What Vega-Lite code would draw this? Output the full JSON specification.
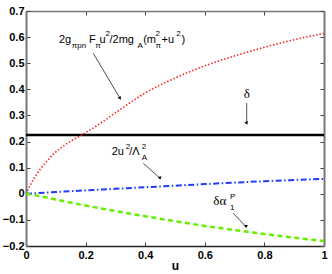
{
  "$schema": "https://vega.github.io/schema/vega-lite/v6.json",
  "width": 298,
  "height": 235,
  "autosize": {"type": "none"},
  "padding": {"left": 26, "top": 11, "right": 8, "bottom": 28},
  "background": "white",
  "config": {
    "view": {"stroke": null},
    "font": "Liberation Sans"
  },
  "datasets": {
    "curves": [
      {"u": 0, "v": 0, "s": "red"}, {"u": 0.01, "v": 0.024, "s": "red"}, {"u": 0.02, "v": 0.045, "s": "red"}, {"u": 0.047, "v": 0.093, "s": "red"}, {"u": 0.07, "v": 0.124, "s": "red"}, {"u": 0.092, "v": 0.152, "s": "red"}, {"u": 0.12, "v": 0.178, "s": "red"}, {"u": 0.148, "v": 0.2, "s": "red"}, {"u": 0.187, "v": 0.225, "s": "red"}, {"u": 0.25, "v": 0.27, "s": "red"}, {"u": 0.3, "v": 0.31, "s": "red"}, {"u": 0.4, "v": 0.386, "s": "red"}, {"u": 0.5, "v": 0.443, "s": "red"}, {"u": 0.6, "v": 0.49, "s": "red"}, {"u": 0.7, "v": 0.528, "s": "red"}, {"u": 0.8, "v": 0.561, "s": "red"}, {"u": 0.9, "v": 0.59, "s": "red"}, {"u": 1.0, "v": 0.614, "s": "red"},
      {"u": 0, "v": 0, "s": "blue"}, {"u": 0.1, "v": 0.007, "s": "blue"}, {"u": 0.2, "v": 0.013, "s": "blue"}, {"u": 0.3, "v": 0.019, "s": "blue"}, {"u": 0.4, "v": 0.025, "s": "blue"}, {"u": 0.5, "v": 0.031, "s": "blue"}, {"u": 0.6, "v": 0.037, "s": "blue"}, {"u": 0.7, "v": 0.043, "s": "blue"}, {"u": 0.8, "v": 0.048, "s": "blue"}, {"u": 0.9, "v": 0.053, "s": "blue"}, {"u": 1.0, "v": 0.057, "s": "blue"},
      {"u": 0, "v": 0, "s": "green"}, {"u": 0.047, "v": -0.009, "s": "green"}, {"u": 0.1, "v": -0.022, "s": "green"}, {"u": 0.2, "v": -0.045, "s": "green"}, {"u": 0.3, "v": -0.066, "s": "green"}, {"u": 0.4, "v": -0.086, "s": "green"}, {"u": 0.5, "v": -0.105, "s": "green"}, {"u": 0.6, "v": -0.123, "s": "green"}, {"u": 0.7, "v": -0.139, "s": "green"}, {"u": 0.8, "v": -0.154, "s": "green"}, {"u": 0.9, "v": -0.168, "s": "green"}, {"u": 1.0, "v": -0.181, "s": "green"}
    ],
    "delta": [{"u": 0, "v": 0.225}, {"u": 1, "v": 0.225}],
    "arrows": [
      {"id": "a1", "u": 0.2258, "v": 0.5381, "u2": 0.3154, "v2": 0.3658},
      {"id": "a2", "u": 0.7406, "v": 0.3478, "u2": 0.7406, "v2": 0.27},
      {"id": "a3", "u": 0.3936, "v": 0.1168, "u2": 0.4497, "v2": 0.0594},
      {"id": "a4", "u": 0.6956, "v": -0.0747, "u2": 0.7383, "v2": -0.126}
    ],
    "labels": [
      {"u": 0.1107, "v": 0.5764, "t": "2g", "k": "n"},
      {"u": 0.1534, "v": 0.5595, "t": "πpn", "k": "s"},
      {"u": 0.2114, "v": 0.5764, "t": "F", "k": "n"},
      {"u": 0.2325, "v": 0.5595, "t": "π", "k": "s"},
      {"u": 0.2466, "v": 0.5764, "t": "u", "k": "n"},
      {"u": 0.2668, "v": 0.6055, "t": "2", "k": "s"},
      {"u": 0.2802, "v": 0.5764, "t": "/2mg", "k": "n"},
      {"u": 0.3745, "v": 0.5595, "t": "A", "k": "s"},
      {"u": 0.3933, "v": 0.5764, "t": "(m", "k": "n"},
      {"u": 0.4349, "v": 0.6055, "t": "2", "k": "s"},
      {"u": 0.4349, "v": 0.5595, "t": "π", "k": "s"},
      {"u": 0.455, "v": 0.5764, "t": "+u", "k": "n"},
      {"u": 0.5043, "v": 0.6055, "t": "2", "k": "s"},
      {"u": 0.5221, "v": 0.5764, "t": ")", "k": "n"},
      {"u": 0.2876, "v": 0.1486, "t": "2u", "k": "n"},
      {"u": 0.3346, "v": 0.1716, "t": "2", "k": "s"},
      {"u": 0.3466, "v": 0.1486, "t": "/Λ", "k": "n"},
      {"u": 0.3886, "v": 0.1716, "t": "2", "k": "s"},
      {"u": 0.3886, "v": 0.1294, "t": "A", "k": "s"},
      {"u": 0.7306, "v": 0.367, "t": "δ", "k": "g"},
      {"u": 0.6285, "v": -0.0429, "t": "δα", "k": "g"},
      {"u": 0.6846, "v": -0.0199, "t": "P", "k": "s"},
      {"u": 0.6846, "v": -0.062, "t": "1", "k": "s"}
    ],
    "frame": [{"u": 0, "v": -0.2}, {"u": 1, "v": 0.7}]
  },
  "resolve": {"axis": {"x": "independent", "y": "independent"}},
  "layer": [
    {
      "data": {"name": "frame"},
      "mark": {"type": "point", "opacity": 0},
      "encoding": {
        "x": {"field": "u", "type": "quantitative", "scale": {"domain": [0, 1], "nice": false, "zero": false},
          "axis": {"orient": "bottom", "values": [0, 0.2, 0.4, 0.6, 0.8, 1], "format": "~g", "title": "u",
            "titleFont": "Liberation Sans", "titleFontSize": 12, "titleFontWeight": "bold", "titlePadding": 0, "titleColor": "black",
            "labelFont": "Liberation Sans", "labelFontSize": 11, "labelFontWeight": "bold", "labelColor": "black", "labelPadding": 7,
            "tickSize": -4, "tickColor": "#444", "domainColor": "#222", "domainWidth": 1.5, "grid": false, "labelFlush": false}},
        "y": {"field": "v", "type": "quantitative", "scale": {"domain": [-0.2, 0.7], "nice": false, "zero": false},
          "axis": {"orient": "left", "values": [-0.2, -0.1, 0, 0.1, 0.2, 0.3, 0.4, 0.5, 0.6, 0.7], "format": "~g", "title": null,
            "labelFont": "Liberation Sans", "labelFontSize": 11, "labelFontWeight": "bold", "labelColor": "black", "labelPadding": 6,
            "tickSize": -4, "tickColor": "#444", "domainColor": "#777", "domainWidth": 2, "grid": false, "labelFlush": false}}
      }
    },
    {
      "data": {"name": "frame"},
      "mark": {"type": "point", "opacity": 0},
      "encoding": {
        "x": {"field": "u", "type": "quantitative", "scale": {"domain": [0, 1], "nice": false, "zero": false},
          "axis": {"orient": "top", "values": [0, 0.2, 0.4, 0.6, 0.8, 1], "labels": false, "title": null,
            "tickSize": -4, "tickColor": "#444", "domainColor": "#777", "domainWidth": 1.5, "grid": false}},
        "y": {"field": "v", "type": "quantitative", "scale": {"domain": [-0.2, 0.7], "nice": false, "zero": false},
          "axis": {"orient": "right", "values": [-0.2, -0.1, 0, 0.1, 0.2, 0.3, 0.4, 0.5, 0.6, 0.7], "labels": false, "title": null,
            "tickSize": -4, "tickColor": "#444", "domainColor": "#777", "domainWidth": 2, "grid": false}}
      }
    },
    {
      "data": {"name": "delta"},
      "mark": {"type": "line", "color": "black", "strokeWidth": 2.5},
      "encoding": {
        "x": {"field": "u", "type": "quantitative", "axis": null},
        "y": {"field": "v", "type": "quantitative", "axis": null}
      }
    },
    {
      "data": {"name": "curves"},
      "transform": [{"filter": "datum.s == 'red'"}],
      "mark": {"type": "line", "color": "#ff1a1a", "strokeWidth": 1.6, "strokeDash": [1.4, 2], "interpolate": "monotone"},
      "encoding": {
        "x": {"field": "u", "type": "quantitative", "axis": null},
        "y": {"field": "v", "type": "quantitative", "axis": null}
      }
    },
    {
      "data": {"name": "curves"},
      "transform": [{"filter": "datum.s == 'blue'"}],
      "mark": {"type": "line", "color": "#1f3cff", "strokeWidth": 2, "strokeDash": [6, 2.5, 1.5, 2.5]},
      "encoding": {
        "x": {"field": "u", "type": "quantitative", "axis": null},
        "y": {"field": "v", "type": "quantitative", "axis": null}
      }
    },
    {
      "data": {"name": "curves"},
      "transform": [{"filter": "datum.s == 'green'"}],
      "mark": {"type": "line", "color": "#66ee00", "strokeWidth": 2.5, "strokeDash": [5, 3.5], "interpolate": "monotone"},
      "encoding": {
        "x": {"field": "u", "type": "quantitative", "axis": null},
        "y": {"field": "v", "type": "quantitative", "axis": null}
      }
    },
    {
      "data": {"name": "arrows"},
      "mark": {"type": "rule", "color": "#222", "strokeWidth": 0.8},
      "encoding": {
        "x": {"field": "u", "type": "quantitative", "axis": null},
        "y": {"field": "v", "type": "quantitative", "axis": null},
        "x2": {"field": "u2"},
        "y2": {"field": "v2"}
      }
    },
    {
      "data": {"name": "arrows"},
      "mark": {"type": "point", "shape": "triangle-up", "filled": true, "color": "black", "size": 14, "opacity": 1},
      "encoding": {
        "x": {"field": "u2", "type": "quantitative", "axis": null},
        "y": {"field": "v2", "type": "quantitative", "axis": null},
        "angle": {"field": "id", "type": "nominal", "scale": {"domain": ["a1", "a2", "a3", "a4"], "range": [149, 180, 132, 136]}, "legend": null}
      }
    },
    {
      "data": {"name": "labels"},
      "transform": [{"filter": "datum.k == 'n'"}],
      "mark": {"type": "text", "align": "left", "baseline": "alphabetic", "font": "Liberation Sans", "fontSize": 11, "color": "black"},
      "encoding": {
        "x": {"field": "u", "type": "quantitative", "axis": null},
        "y": {"field": "v", "type": "quantitative", "axis": null},
        "text": {"field": "t"}
      }
    },
    {
      "data": {"name": "labels"},
      "transform": [{"filter": "datum.k == 's'"}],
      "mark": {"type": "text", "align": "left", "baseline": "alphabetic", "font": "Liberation Sans", "fontSize": 8, "color": "black"},
      "encoding": {
        "x": {"field": "u", "type": "quantitative", "axis": null},
        "y": {"field": "v", "type": "quantitative", "axis": null},
        "text": {"field": "t"}
      }
    },
    {
      "data": {"name": "labels"},
      "transform": [{"filter": "datum.k == 'g'"}],
      "mark": {"type": "text", "align": "left", "baseline": "alphabetic", "font": "Liberation Serif", "fontSize": 13, "color": "black"},
      "encoding": {
        "x": {"field": "u", "type": "quantitative", "axis": null},
        "y": {"field": "v", "type": "quantitative", "axis": null},
        "text": {"field": "t"}
      }
    }
  ]
}
